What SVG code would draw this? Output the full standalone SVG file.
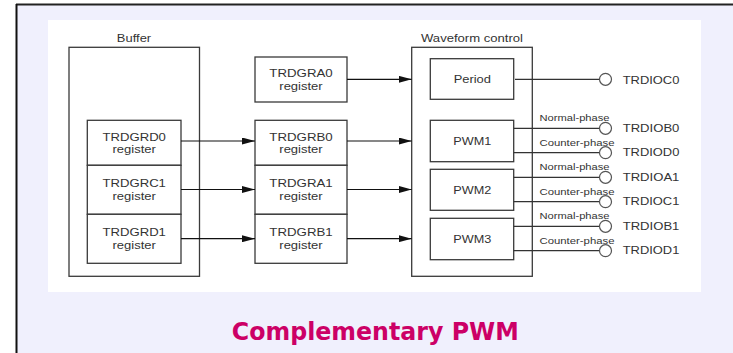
<svg xmlns="http://www.w3.org/2000/svg" width="733" height="353" viewBox="0 0 733 353">
<defs>
<marker id="ah" markerWidth="13" markerHeight="7" refX="13" refY="3.5" orient="auto" markerUnits="userSpaceOnUse"><path d="M0,0 L13,3.5 L0,7 z" fill="#111"/></marker>
<style>
.box{fill:#fff;stroke:#3a3a3a;stroke-width:1.3}
.frame{fill:none;stroke:#3a3a3a;stroke-width:1.3}
.t{font-family:"Liberation Sans",Arial,sans-serif;font-size:11.5px;fill:#333;text-anchor:middle}
.o{font-family:"Liberation Sans",Arial,sans-serif;font-size:11.5px;fill:#333}
.s{font-family:"Liberation Sans",Arial,sans-serif;font-size:8.8px;fill:#333}
.ln{stroke:#333;stroke-width:1.2;fill:none}
.ar{stroke:#111;stroke-width:1.2;fill:none;marker-end:url(#ah)}
.pin{fill:#fff;stroke:#555;stroke-width:1.2}
</style>
</defs>
<rect x="0" y="0" width="733" height="353" fill="#fff"/>
<rect x="16" y="4" width="730" height="360" fill="#F0F0FD"/>
<line x1="16" y1="4.5" x2="733" y2="4.5" stroke="#222" stroke-width="2"/>
<line x1="16.5" y1="4" x2="16.5" y2="353" stroke="#111" stroke-width="2"/>
<rect x="48" y="20" width="653" height="272" fill="#fff"/>

<g id="buffer">
<rect class="frame" x="69" y="47.3" width="130.5" height="229"/>
<text class="t" x="134" y="41.5" textLength="34.3" lengthAdjust="spacingAndGlyphs">Buffer</text>
</g>
<g id="trdgrd0">
<rect class="box" x="87.3" y="120.3" width="93.7" height="45"/>
<text class="t" x="134.2" y="140.5" textLength="63.4" lengthAdjust="spacingAndGlyphs">TRDGRD0</text>
<text class="t" x="134.2" y="153.3" textLength="43.4" lengthAdjust="spacingAndGlyphs">register</text>
</g>
<g id="trdgrc1">
<rect class="box" x="87.3" y="165.3" width="93.7" height="49"/>
<text class="t" x="134.2" y="187" textLength="63.4" lengthAdjust="spacingAndGlyphs">TRDGRC1</text>
<text class="t" x="134.2" y="200" textLength="43.4" lengthAdjust="spacingAndGlyphs">register</text>
</g>
<g id="trdgrd1">
<rect class="box" x="87.3" y="214.3" width="93.7" height="49"/>
<text class="t" x="134.2" y="236" textLength="63.4" lengthAdjust="spacingAndGlyphs">TRDGRD1</text>
<text class="t" x="134.2" y="249.3" textLength="43.4" lengthAdjust="spacingAndGlyphs">register</text>
</g>

<g id="trdgra0">
<rect class="box" x="255" y="57" width="92" height="45"/>
<text class="t" x="301" y="76.7" textLength="63.4" lengthAdjust="spacingAndGlyphs">TRDGRA0</text>
<text class="t" x="301" y="90" textLength="43.4" lengthAdjust="spacingAndGlyphs">register</text>
</g>
<g id="trdgrb0">
<rect class="box" x="255" y="120.3" width="92" height="45"/>
<text class="t" x="301" y="140.5" textLength="63.4" lengthAdjust="spacingAndGlyphs">TRDGRB0</text>
<text class="t" x="301" y="153.3" textLength="43.4" lengthAdjust="spacingAndGlyphs">register</text>
</g>
<g id="trdgra1">
<rect class="box" x="255" y="165.3" width="92" height="49"/>
<text class="t" x="301" y="187" textLength="63.4" lengthAdjust="spacingAndGlyphs">TRDGRA1</text>
<text class="t" x="301" y="200" textLength="43.4" lengthAdjust="spacingAndGlyphs">register</text>
</g>
<g id="trdgrb1">
<rect class="box" x="255" y="214.3" width="92" height="49"/>
<text class="t" x="301" y="236" textLength="63.4" lengthAdjust="spacingAndGlyphs">TRDGRB1</text>
<text class="t" x="301" y="249.3" textLength="43.4" lengthAdjust="spacingAndGlyphs">register</text>
</g>

<g id="waveform">
<rect class="frame" x="411.7" y="47.3" width="120.6" height="229"/>
<text class="t" x="472" y="41.5" textLength="102" lengthAdjust="spacingAndGlyphs">Waveform control</text>
</g>
<g id="period">
<rect class="box" x="430.3" y="58.7" width="83.4" height="40.6"/>
<text class="t" x="472.3" y="83" textLength="37.3" lengthAdjust="spacingAndGlyphs">Period</text>
</g>
<g id="pwm1">
<rect class="box" x="430.3" y="120.3" width="83.4" height="41.4"/>
<text class="t" x="472.3" y="145" textLength="38" lengthAdjust="spacingAndGlyphs">PWM1</text>
</g>
<g id="pwm2">
<rect class="box" x="430.3" y="169.3" width="83.4" height="41"/>
<text class="t" x="472.3" y="193.7" textLength="38" lengthAdjust="spacingAndGlyphs">PWM2</text>
</g>
<g id="pwm3">
<rect class="box" x="430.3" y="218.3" width="83.4" height="41.4"/>
<text class="t" x="472.3" y="243" textLength="38" lengthAdjust="spacingAndGlyphs">PWM3</text>
</g>

<g id="connectors">
<line class="ar" x1="181" y1="141" x2="255" y2="141"/>
<line class="ar" x1="181" y1="189.5" x2="255" y2="189.5"/>
<line class="ar" x1="181" y1="238.7" x2="255" y2="238.7"/>
<line class="ar" x1="347" y1="79.3" x2="411.7" y2="79.3"/>
<line class="ar" x1="347" y1="141" x2="411.7" y2="141"/>
<line class="ar" x1="347" y1="189.5" x2="411.7" y2="189.5"/>
<line class="ar" x1="347" y1="238.7" x2="411.7" y2="238.7"/>
<line class="ln" x1="515" y1="79.3" x2="599.5" y2="79.3"/>
<line class="ln" x1="513.7" y1="128.3" x2="599.5" y2="128.3"/>
<line class="ln" x1="513.7" y1="152.7" x2="599.5" y2="152.7"/>
<line class="ln" x1="513.7" y1="177.3" x2="599.5" y2="177.3"/>
<line class="ln" x1="513.7" y1="201.7" x2="599.5" y2="201.7"/>
<line class="ln" x1="513.7" y1="226.3" x2="599.5" y2="226.3"/>
<line class="ln" x1="513.7" y1="250.7" x2="599.5" y2="250.7"/>
<text class="s" x="539.5" y="121" textLength="70" lengthAdjust="spacingAndGlyphs">Normal-phase</text>
<text class="s" x="539.5" y="145.7" textLength="75" lengthAdjust="spacingAndGlyphs">Counter-phase</text>
<text class="s" x="539.5" y="170" textLength="70" lengthAdjust="spacingAndGlyphs">Normal-phase</text>
<text class="s" x="539.5" y="194.7" textLength="75" lengthAdjust="spacingAndGlyphs">Counter-phase</text>
<text class="s" x="539.5" y="219" textLength="70" lengthAdjust="spacingAndGlyphs">Normal-phase</text>
<text class="s" x="539.5" y="243.7" textLength="75" lengthAdjust="spacingAndGlyphs">Counter-phase</text>
</g>

<g id="pin-trdioc0"><circle class="pin" cx="605.5" cy="79.3" r="6"/><text class="o" x="622.7" y="84" textLength="56.7" lengthAdjust="spacingAndGlyphs">TRDIOC0</text></g>
<g id="pin-trdiob0"><circle class="pin" cx="605.5" cy="128.3" r="6"/><text class="o" x="622.7" y="131.5" textLength="56.7" lengthAdjust="spacingAndGlyphs">TRDIOB0</text></g>
<g id="pin-trdiod0"><circle class="pin" cx="605.5" cy="152.7" r="6"/><text class="o" x="622.7" y="156" textLength="56.7" lengthAdjust="spacingAndGlyphs">TRDIOD0</text></g>
<g id="pin-trdioa1"><circle class="pin" cx="605.5" cy="177.3" r="6"/><text class="o" x="622.7" y="180.5" textLength="56.7" lengthAdjust="spacingAndGlyphs">TRDIOA1</text></g>
<g id="pin-trdioc1"><circle class="pin" cx="605.5" cy="201.7" r="6"/><text class="o" x="622.7" y="205" textLength="56.7" lengthAdjust="spacingAndGlyphs">TRDIOC1</text></g>
<g id="pin-trdiob1"><circle class="pin" cx="605.5" cy="226.3" r="6"/><text class="o" x="622.7" y="229.5" textLength="56.7" lengthAdjust="spacingAndGlyphs">TRDIOB1</text></g>
<g id="pin-trdiod1"><circle class="pin" cx="605.5" cy="250.7" r="6"/><text class="o" x="622.7" y="254" textLength="56.7" lengthAdjust="spacingAndGlyphs">TRDIOD1</text></g>

<text x="375.3" y="340" font-family="'DejaVu Sans',Verdana,sans-serif" font-weight="bold" font-size="24" fill="#CC0066" text-anchor="middle" textLength="287" lengthAdjust="spacingAndGlyphs">Complementary PWM</text>
</svg>
